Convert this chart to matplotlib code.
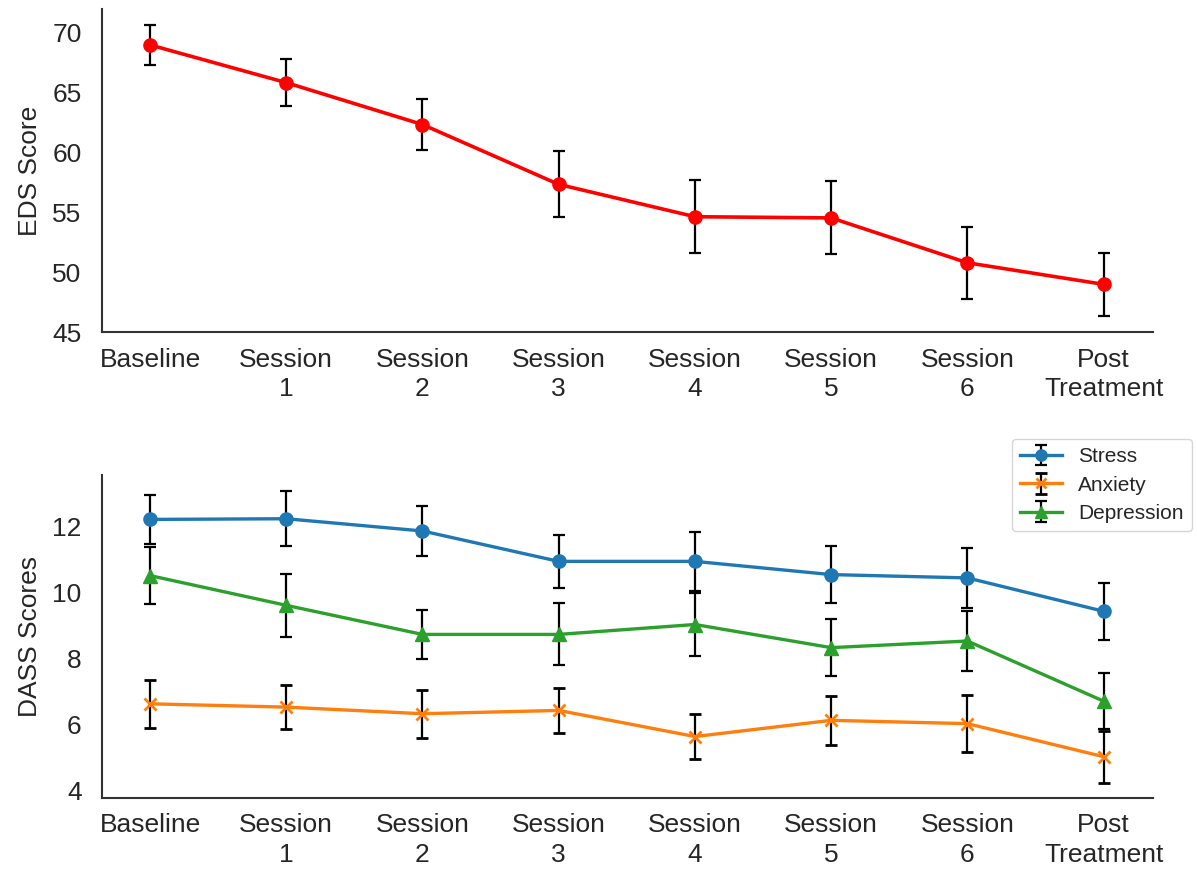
import matplotlib
matplotlib.use("Agg")
import matplotlib.pyplot as plt

labels = ["Baseline", "Session\n1", "Session\n2", "Session\n3", "Session\n4",
          "Session\n5", "Session\n6", "Post\nTreatment"]

eds_mean = [69.0, 65.85, 62.35, 57.35, 54.65, 54.55, 50.8, 49.0]
eds_err = [1.65, 1.95, 2.1, 2.75, 3.05, 3.05, 3.0, 2.65]

stress_mean = [12.2, 12.22, 11.85, 10.93, 10.93, 10.53, 10.43, 9.42]
stress_err = [0.74, 0.83, 0.77, 0.81, 0.9, 0.87, 0.9, 0.86]

anxiety_mean = [6.62, 6.52, 6.32, 6.42, 5.63, 6.12, 6.02, 5.02]
anxiety_err = [0.72, 0.67, 0.72, 0.69, 0.67, 0.75, 0.86, 0.79]

depression_mean = [10.5, 9.6, 8.72, 8.72, 9.02, 8.32, 8.52, 6.7]
depression_err = [0.86, 0.96, 0.75, 0.94, 0.95, 0.87, 0.92, 0.85]

plt.rcParams['font.family'] = ['Liberation Sans', 'DejaVu Sans']
text_color = '#262626'

fig = plt.figure(figsize=(11.97, 8.75), dpi=100)
ax1 = fig.add_axes([0.0855, 0.6203, 0.8775, 0.3694])
ax2 = fig.add_axes([0.0855, 0.088, 0.8775, 0.369])

x = list(range(len(labels)))

eb = dict(ecolor='black', elinewidth=1.6, capsize=4.5, capthick=1.6)

ax1.errorbar(x, eds_mean, yerr=eds_err, color='red', marker='o', ms=9.5, lw=2.6, **eb)

ax2.errorbar(x, stress_mean, yerr=stress_err, color='#1f77b4', marker='o', ms=9.5, lw=2.4,
             label='Stress', **eb)
ax2.errorbar(x, anxiety_mean, yerr=anxiety_err, color='#ff7f0e', marker='x', ms=9, mew=2, lw=2.4,
             label='Anxiety', **eb)
ax2.errorbar(x, depression_mean, yerr=depression_err, color='#2ca02c', marker='^', ms=9.5, lw=2.4,
             label='Depression', **eb)

ax1.set_ylim(45, 72)
ax1.set_yticks([45, 50, 55, 60, 65, 70])
ax2.set_ylim(3.77, 13.54)
ax2.set_yticks([4, 6, 8, 10, 12])

for ax, ylabel in ((ax1, 'EDS Score'), (ax2, 'DASS Scores')):
    ax.set_xlim(-0.35, 7.36)
    ax.set_xticks(x)
    ax.set_xticklabels(labels, linespacing=1.3)
    ax.tick_params(axis='both', length=0, labelsize=19, colors=text_color)
    ax.tick_params(axis='y', pad=15)
    ax.tick_params(axis='x', pad=11)
    ax.set_ylabel(ylabel, fontsize=19, color=text_color, labelpad=7)
    for s in ('top', 'right'):
        ax.spines[s].set_visible(False)
    for s in ('left', 'bottom'):
        ax.spines[s].set_color('#333333')
        ax.spines[s].set_linewidth(1.5)
    ax.grid(False)

leg = ax2.legend(loc='upper right', bbox_to_anchor=(1192 / 1197, 1 - 439 / 875),
                 bbox_transform=fig.transFigure, borderaxespad=0, fontsize=15,
                 frameon=True, fancybox=True, handlelength=2.0, labelspacing=0.45,
                 markerscale=0.85)
leg.get_frame().set_edgecolor('#cccccc')
for t in leg.get_texts():
    t.set_color(text_color)

fig.savefig('out.png', dpi=100)
